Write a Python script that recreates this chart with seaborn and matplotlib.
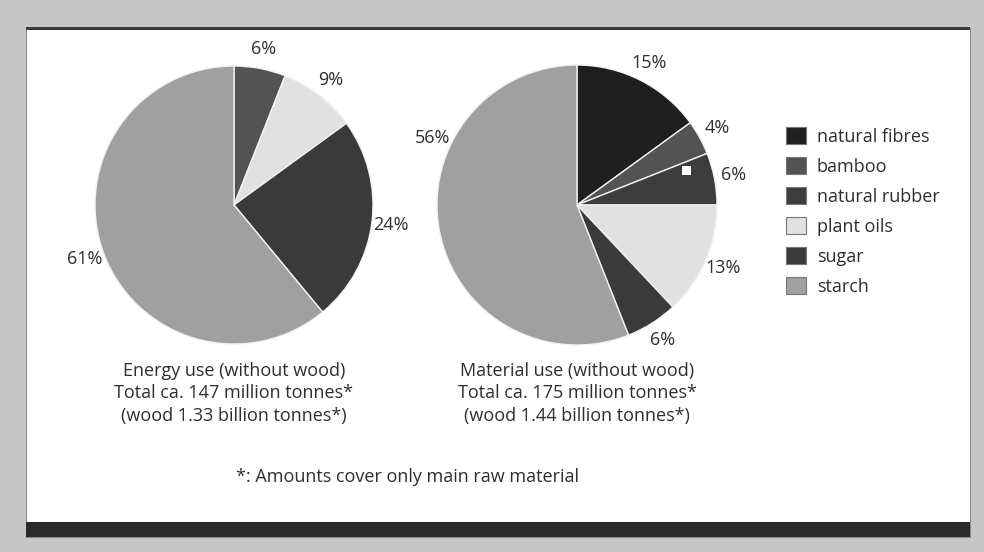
import numpy as np
import matplotlib
matplotlib.use("Agg")
import matplotlib.pyplot as plt
from matplotlib.patches import Rectangle, Patch
import seaborn as sns

# Raw material categories and their shares (%)
categories = ["natural fibres", "bamboo", "natural rubber", "plant oils", "sugar", "starch"]
energy_share = [0, 6, 0, 9, 24, 61]
material_share = [15, 4, 6, 13, 6, 56]
colors = ["#1f1f1f", "#535353", "#3d3d3d", "#e1e1e1", "#3a3a3a", "#a0a0a0"]

energy_caption = ["Energy use (without wood)",
                  "Total ca. 147 million tonnes*",
                  "(wood 1.33 billion tonnes*)"]
material_caption = ["Material use (without wood)",
                    "Total ca. 175 million tonnes*",
                    "(wood 1.44 billion tonnes*)"]
footnote = "*: Amounts cover only main raw material"

sns.set_theme(style="white")
plt.rcParams["font.family"] = ["Open Sans", "DejaVu Sans"]
TEXT = "#2e2e2e"
FS = 13

W, H = 984, 552
fig = plt.figure(figsize=(W / 100, H / 100), dpi=100)
fig.patch.set_facecolor("#c6c6c6")


def px_rect(x0, y0, x1, y1, **kw):
    """Rectangle given in pixel coordinates measured from the top-left."""
    fig.patches.append(Rectangle((x0 / W, 1 - y1 / H), (x1 - x0) / W, (y1 - y0) / H,
                                 transform=fig.transFigure, figure=fig, zorder=-5, **kw))


# white panel, top rule and dark footer bar
px_rect(26, 28, 970, 537, facecolor="white", edgecolor="#8a8a8a", linewidth=0.8)
px_rect(26, 27, 970, 29.5, facecolor="#3a3a3a", edgecolor="none")
px_rect(26, 522, 970, 537, facecolor="#2a2a2a", edgecolor="none")


def draw_pie(cx, cy, r, shares, caption, label_angle=None):
    ax = fig.add_axes([(cx - r) / W, 1 - (cy + r) / H, 2 * r / W, 2 * r / H])
    ax.patch.set_visible(False)
    vals = [v for v in shares if v > 0]
    cols = [c for v, c in zip(shares, colors) if v > 0]
    names = [n for v, n in zip(shares, categories) if v > 0]
    wedges, texts = ax.pie(vals, colors=cols, startangle=90, counterclock=False,
                           labels=[f"{v}%" for v in vals], labeldistance=1.14,
                           wedgeprops=dict(edgecolor="#f2f2f2", linewidth=1.0),
                           textprops=dict(fontsize=FS, color=TEXT, ha="center", va="center"))
    for t in texts:
        t.set_ha("center")
    if label_angle:
        for n, t in zip(names, texts):
            if n in label_angle:
                a = np.deg2rad(label_angle[n])
                t.set_position((1.14 * np.cos(a), 1.14 * np.sin(a)))
    ax.set_xlim(-1, 1)
    ax.set_ylim(-1, 1)
    ax.set_aspect("equal")
    ax.axis("off")
    fig.text(cx / W, 1 - 362 / H, "\n".join(caption), ha="center", va="top",
             fontsize=FS, color=TEXT, linespacing=1.31)
    return ax


draw_pie(234, 205, 139, energy_share, energy_caption)
ax_m = draw_pie(577, 205, 140, material_share, material_caption,
                label_angle={"starch": 155})

# small white marker inside the natural rubber wedge
a = np.deg2rad(17.5)
ax_m.add_patch(Rectangle((0.82 * np.cos(a) - 0.035, 0.82 * np.sin(a) - 0.035), 0.07, 0.07,
                         facecolor="white", edgecolor="none"))

fig.text(236 / W, 1 - 477 / H, footnote, ha="left", va="center", fontsize=FS, color=TEXT)

handles = [Patch(facecolor=c, edgecolor="#777777", linewidth=0.8) for c in colors]
fig.legend(handles, categories, loc="upper left",
           bbox_to_anchor=(786 / W, 1 - 127 / H), frameon=False, borderpad=0,
           borderaxespad=0, handlelength=1.1, handleheight=1.1, handletextpad=0.6,
           labelspacing=0.62, prop=dict(size=FS), labelcolor=TEXT)

fig.savefig("out.png", dpi=100, facecolor=fig.get_facecolor())
